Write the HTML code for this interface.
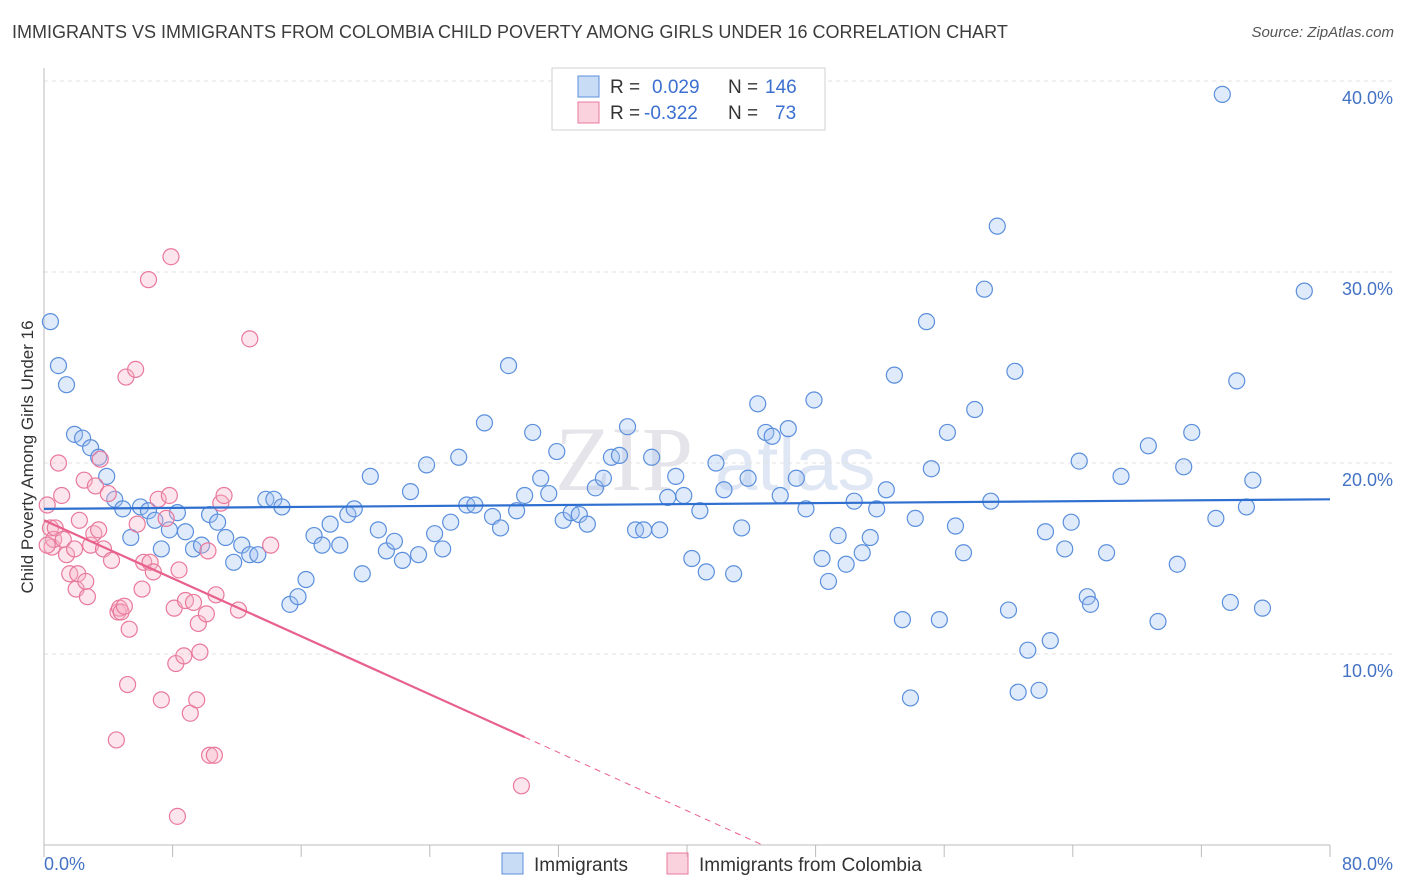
<!DOCTYPE html>
<html><head><meta charset="utf-8"><style>
body{margin:0;background:#fff;font-family:"Liberation Sans",sans-serif}
#wrap{position:relative;width:1406px;height:892px;overflow:hidden}
.t{position:absolute;white-space:nowrap}
</style></head><body>
<div id="wrap">
<div class="t" style="left:12px;top:22px;font-size:18px;color:#3c3c3c">IMMIGRANTS VS IMMIGRANTS FROM COLOMBIA CHILD POVERTY AMONG GIRLS UNDER 16 CORRELATION CHART</div>
<div class="t" style="right:12px;top:24px;font-size:15px;font-style:italic;color:#555">Source: ZipAtlas.com</div>
<svg id="svg" width="1406" height="892" style="position:absolute;left:0;top:0"></svg>
</div>
<script>
const blueX=[0.4,0.9,1.4,1.9,2.4,2.9,3.4,3.9,4.4,4.9,5.4,6.0,6.5,6.9,7.3,7.8,8.3,8.8,9.3,9.8,10.3,10.8,11.3,11.8,12.3,12.8,13.3,13.8,14.3,14.8,15.3,15.8,16.3,16.8,17.3,17.8,18.4,18.9,19.3,19.8,20.3,20.8,21.3,21.8,22.3,22.8,23.3,23.8,24.3,24.8,25.3,25.8,26.3,26.8,27.4,27.9,28.4,28.9,29.4,29.9,30.4,30.9,31.4,31.9,32.3,32.8,33.3,33.8,34.3,34.8,35.3,35.8,36.3,36.8,37.3,37.8,38.3,38.8,39.3,39.8,40.3,40.8,41.2,41.8,42.3,42.9,43.4,43.8,44.4,44.9,45.3,45.8,46.3,46.8,47.4,47.9,48.4,48.8,49.4,49.9,50.4,50.9,51.4,51.8,52.4,52.9,53.4,53.9,54.2,54.9,55.2,55.7,56.2,56.7,57.2,57.9,58.5,58.9,59.3,60.0,60.4,60.6,61.2,61.9,62.3,62.6,63.5,63.9,64.4,64.9,65.1,66.1,67.0,68.7,69.3,70.5,70.9,71.4,72.9,73.3,73.8,74.2,74.8,75.2,75.8,78.4];
const blueY=[27.4,25.1,24.1,21.5,21.3,20.8,20.3,19.3,18.1,17.6,16.1,17.7,17.5,17.0,15.5,16.5,17.4,16.4,15.5,15.7,17.3,16.9,16.1,14.8,15.7,15.2,15.2,18.1,18.1,17.7,12.6,13.0,13.9,16.2,15.7,16.8,15.7,17.3,17.6,14.2,19.3,16.5,15.4,15.9,14.9,18.5,15.2,19.9,16.3,15.5,16.9,20.3,17.8,17.8,22.1,17.2,16.6,25.1,17.5,18.3,21.6,19.2,18.4,20.6,17.0,17.4,17.3,16.8,18.7,19.2,20.3,20.4,21.9,16.5,16.5,20.3,16.5,18.2,19.3,18.3,15.0,17.5,14.3,20.0,18.6,14.2,16.6,19.2,23.1,21.6,21.4,18.3,21.8,19.2,17.6,23.3,15.0,13.8,16.2,14.7,18.0,15.3,16.1,17.6,18.6,24.6,11.8,7.7,17.1,27.4,19.7,11.8,21.6,16.7,15.3,22.8,29.1,18.0,32.4,12.3,24.8,8.0,10.2,8.1,16.4,10.7,15.5,16.9,20.1,13.0,12.6,15.3,19.3,20.9,11.7,14.7,19.8,21.6,17.1,39.3,12.7,24.3,17.7,19.1,12.4,29.0];
const pinkX=[0.2,0.4,0.5,0.6,0.7,0.9,1.1,1.2,1.4,1.6,1.9,2.0,2.1,2.2,2.5,2.6,2.7,2.9,3.1,3.2,3.4,3.5,3.7,4.0,4.2,4.5,4.6,4.7,4.8,5.0,5.1,5.2,5.3,5.7,5.8,6.1,6.2,6.5,6.6,6.8,7.1,7.3,7.6,7.8,7.9,8.1,8.2,8.3,8.4,8.7,8.8,9.1,9.3,9.5,9.6,9.7,10.1,10.2,10.3,10.6,10.7,11.0,11.2,12.1,12.8,14.1,29.7,0.2];
const pinkY=[17.8,16.6,15.6,16.0,16.6,20.0,18.3,16.0,15.2,14.2,15.5,13.4,14.2,17.0,19.1,13.8,13.0,15.7,16.3,18.8,16.5,20.2,15.5,18.4,14.9,5.5,12.2,12.4,12.2,12.5,24.5,8.4,11.3,24.9,16.8,13.4,14.8,29.6,14.8,14.3,18.1,7.6,17.1,18.3,30.8,12.4,9.5,1.5,14.4,9.9,12.8,6.9,12.7,7.6,11.6,10.1,12.1,15.4,4.7,4.7,13.1,17.9,18.3,12.3,26.5,15.7,3.1,15.7];
const yTicks=[10,20,30,40];
const yTickLabels=["10.0%","20.0%","30.0%","40.0%"];
const xTicks=[0,8,16,24,32,40,48,56,64,72,80];
const blueTrend=[17.6,18.1];
const pinkTrend=[17.0,5.65,0];
const pinkTrendX=[0,29.9,44.7];

const X0=44,X1=1330,Y0=845,PY=19.1;
const sx=v=>X0+(v/80)*(X1-X0);
const sy=v=>Y0-v*PY;
const svg=document.getElementById('svg');
const NS='http://www.w3.org/2000/svg';
function mk(tag,attrs){const e=document.createElementNS(NS,tag);for(const k in attrs)e.setAttribute(k,attrs[k]);svg.appendChild(e);return e;}

// watermark
let wm=mk('text',{x:555,y:490,'font-size':92,'font-family':'Liberation Serif, serif',fill:'#e4e4ea'});


wm.textContent='ZIP';
let wm2=mk('text',{x:715,y:490,'font-size':76,'font-family':'Liberation Sans, sans-serif',fill:'#dfe6f4'});


wm2.textContent='atlas';

yTicks.forEach((v,i)=>{
  let g=mk('line',{x1:X0,x2:1392,y1:sy(v),y2:sy(v),stroke:'#e2e2e2','stroke-dasharray':'4,4'});
  
  
  let t=mk('text',{x:1393,y:sy(v)+23,'text-anchor':'end','font-size':18,fill:'#4472c4'});
  
  
  t.textContent=yTickLabels[i];
});
let ax=mk('line',{x1:X0,x2:X1,y1:Y0,y2:Y0,stroke:'#bbb'});


let ay=mk('line',{x1:X0,x2:X0,y1:68,y2:Y0,stroke:'#bbb'});


xTicks.forEach(v=>{
  let t=mk('line',{x1:sx(v),x2:sx(v),y1:Y0,y2:Y0+12,stroke:'#bbb'});
  
  
});
let xl0=mk('text',{x:44,y:870,'font-size':18,fill:'#4472c4'});


xl0.textContent='0.0%';
let xl1=mk('text',{x:1393,y:870,'text-anchor':'end','font-size':18,fill:'#4472c4'});


xl1.textContent='80.0%';
let yt=mk('text',{x:0,y:0,'font-size':17,fill:'#333','text-anchor':'middle',transform:'translate(33,457) rotate(-90)'});


yt.textContent='Child Poverty Among Girls Under 16';

blueX.forEach((x,i)=>{
  let c=mk('circle',{cx:sx(x),cy:sy(blueY[i]),r:8,fill:'rgba(164,196,240,0.35)',stroke:'#5b8fdc','stroke-width':1.2});
  
  
});
pinkX.forEach((x,i)=>{
  let c=mk('circle',{cx:sx(x),cy:sy(pinkY[i]),r:8,fill:'rgba(246,180,200,0.35)',stroke:'#e9799c','stroke-width':1.2});
  
  
});
let bl=mk('line',{x1:sx(0),y1:sy(blueTrend[0]),x2:sx(80),y2:sy(blueTrend[1]),stroke:'#2f6fd0','stroke-width':2.2});


let pl=mk('line',{x1:sx(pinkTrendX[0]),y1:sy(pinkTrend[0]),x2:sx(pinkTrendX[1]),y2:sy(pinkTrend[1]),stroke:'#e8608c','stroke-width':2.2});


let pd=mk('line',{x1:sx(pinkTrendX[1]),y1:sy(pinkTrend[1]),x2:sx(pinkTrendX[2]),y2:sy(pinkTrend[2]),stroke:'#e8608c','stroke-width':1,'stroke-dasharray':'6,5'});



// legend box
let lb=mk('rect',{x:552,y:68,width:273,height:62,fill:'#fff',stroke:'#d0d0d0'});


[[78,'#a4c4f0','#5b8fdc','0.029','146'],[104,'#f6b4c8','#e9799c','-0.322','73']].forEach((r,i)=>{
  let s=mk('rect',{x:578,y:r[0]-2,width:21,height:21,fill:r[1],'fill-opacity':0.6,stroke:r[2]});
  
  
  let t=mk('text',{x:610,y:r[0]+15,'font-size':19,fill:'#333'});
  
  
  t.innerHTML='R = <tspan fill="#3b6fd0" x="'+(i?644:652)+'">'+r[3]+'</tspan><tspan x="728" fill="#333">N =</tspan><tspan fill="#3b6fd0" x="'+(i?775:765)+'">'+r[4]+'</tspan>';
});
// bottom legend
[[502,'#a4c4f0','#5b8fdc','Immigrants',534],[667,'#f6b4c8','#e9799c','Immigrants from Colombia',699]].forEach(r=>{
  let s=mk('rect',{x:r[0],y:853,width:21,height:21,fill:r[1],'fill-opacity':0.6,stroke:r[2]});
  
  
  let t=mk('text',{x:r[4],y:871,'font-size':19,fill:'#333'});
  
  
  t.textContent=r[3];
});
</script>
</body></html>
